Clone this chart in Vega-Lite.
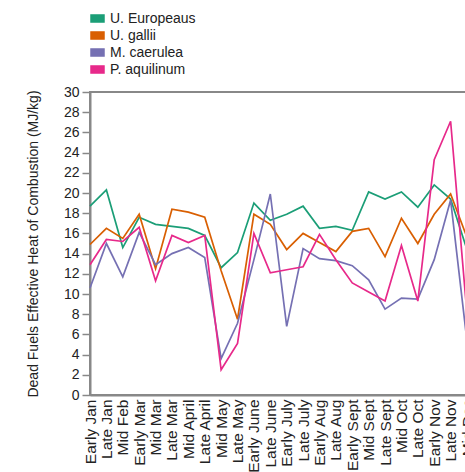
{
  "$schema": "https://vega.github.io/schema/vega-lite/v6.json",
  "width": 377,
  "height": 303,
  "padding": {"left": 26, "top": 11, "right": 0, "bottom": 0},
  "config": {
    "font": "Liberation Sans",
    "view": {"stroke": "#888888", "strokeWidth": 2},
    "axis": {"grid": false, "domainColor": "#888888", "domainWidth": 2, "tickColor": "#888888", "tickWidth": 1.5, "tickSize": 8, "labelFontSize": 14, "labelColor": "#222222", "titleFontSize": 14, "titleFontWeight": "normal", "titleColor": "#222222"}
  },
  "datasets": {
    "rows": [
      {"period": "Early Jan", "species": "U. Europeaus", "value": 18.7},
      {"period": "Late Jan", "species": "U. Europeaus", "value": 20.3},
      {"period": "Mid Feb", "species": "U. Europeaus", "value": 14.6},
      {"period": "Early Mar", "species": "U. Europeaus", "value": 17.6},
      {"period": "Mid Mar", "species": "U. Europeaus", "value": 16.9},
      {"period": "Late Mar", "species": "U. Europeaus", "value": 16.7},
      {"period": "Mid April", "species": "U. Europeaus", "value": 16.5},
      {"period": "Late April", "species": "U. Europeaus", "value": 15.8},
      {"period": "Mid May", "species": "U. Europeaus", "value": 12.6},
      {"period": "Late May", "species": "U. Europeaus", "value": 14.1},
      {"period": "Early June", "species": "U. Europeaus", "value": 19.0},
      {"period": "Late June", "species": "U. Europeaus", "value": 17.3},
      {"period": "Early July", "species": "U. Europeaus", "value": 17.9},
      {"period": "Late July", "species": "U. Europeaus", "value": 18.7},
      {"period": "Early Aug", "species": "U. Europeaus", "value": 16.5},
      {"period": "Late Aug", "species": "U. Europeaus", "value": 16.7},
      {"period": "Early Sept", "species": "U. Europeaus", "value": 16.3},
      {"period": "Mid Sept", "species": "U. Europeaus", "value": 20.1},
      {"period": "Late Sept", "species": "U. Europeaus", "value": 19.4},
      {"period": "Mid Oct", "species": "U. Europeaus", "value": 20.1},
      {"period": "Late Oct", "species": "U. Europeaus", "value": 18.6},
      {"period": "Early Nov", "species": "U. Europeaus", "value": 20.8},
      {"period": "Late Nov", "species": "U. Europeaus", "value": 19.4},
      {"period": "Mid Dec", "species": "U. Europeaus", "value": 14.4},
      {"period": "Early Jan", "species": "U. gallii", "value": 14.9},
      {"period": "Late Jan", "species": "U. gallii", "value": 16.5},
      {"period": "Mid Feb", "species": "U. gallii", "value": 15.5},
      {"period": "Early Mar", "species": "U. gallii", "value": 17.9},
      {"period": "Mid Mar", "species": "U. gallii", "value": 12.5},
      {"period": "Late Mar", "species": "U. gallii", "value": 18.4},
      {"period": "Mid April", "species": "U. gallii", "value": 18.1},
      {"period": "Late April", "species": "U. gallii", "value": 17.6},
      {"period": "Mid May", "species": "U. gallii", "value": 12.3},
      {"period": "Late May", "species": "U. gallii", "value": 7.5},
      {"period": "Early June", "species": "U. gallii", "value": 17.9},
      {"period": "Late June", "species": "U. gallii", "value": 16.9},
      {"period": "Early July", "species": "U. gallii", "value": 14.4},
      {"period": "Late July", "species": "U. gallii", "value": 16.0},
      {"period": "Early Aug", "species": "U. gallii", "value": 15.1},
      {"period": "Late Aug", "species": "U. gallii", "value": 14.2},
      {"period": "Early Sept", "species": "U. gallii", "value": 16.2},
      {"period": "Mid Sept", "species": "U. gallii", "value": 16.5},
      {"period": "Late Sept", "species": "U. gallii", "value": 13.7},
      {"period": "Mid Oct", "species": "U. gallii", "value": 17.5},
      {"period": "Late Oct", "species": "U. gallii", "value": 15.0},
      {"period": "Early Nov", "species": "U. gallii", "value": 17.9},
      {"period": "Late Nov", "species": "U. gallii", "value": 19.9},
      {"period": "Mid Dec", "species": "U. gallii", "value": 15.6},
      {"period": "Early Jan", "species": "M. caerulea", "value": 10.6},
      {"period": "Late Jan", "species": "M. caerulea", "value": 15.0},
      {"period": "Mid Feb", "species": "M. caerulea", "value": 11.7},
      {"period": "Early Mar", "species": "M. caerulea", "value": 16.1},
      {"period": "Mid Mar", "species": "M. caerulea", "value": 12.9},
      {"period": "Late Mar", "species": "M. caerulea", "value": 14.0},
      {"period": "Mid April", "species": "M. caerulea", "value": 14.6},
      {"period": "Late April", "species": "M. caerulea", "value": 13.6},
      {"period": "Mid May", "species": "M. caerulea", "value": 3.6},
      {"period": "Late May", "species": "M. caerulea", "value": 7.1},
      {"period": "Early June", "species": "M. caerulea", "value": 13.4},
      {"period": "Late June", "species": "M. caerulea", "value": 19.9},
      {"period": "Early July", "species": "M. caerulea", "value": 6.8},
      {"period": "Late July", "species": "M. caerulea", "value": 14.5},
      {"period": "Early Aug", "species": "M. caerulea", "value": 13.5},
      {"period": "Late Aug", "species": "M. caerulea", "value": 13.3},
      {"period": "Early Sept", "species": "M. caerulea", "value": 12.8},
      {"period": "Mid Sept", "species": "M. caerulea", "value": 11.4},
      {"period": "Late Sept", "species": "M. caerulea", "value": 8.5},
      {"period": "Mid Oct", "species": "M. caerulea", "value": 9.6},
      {"period": "Late Oct", "species": "M. caerulea", "value": 9.5},
      {"period": "Early Nov", "species": "M. caerulea", "value": 13.4},
      {"period": "Late Nov", "species": "M. caerulea", "value": 19.3},
      {"period": "Mid Dec", "species": "M. caerulea", "value": 5.3},
      {"period": "Early Jan", "species": "P. aquilinum", "value": 12.9},
      {"period": "Late Jan", "species": "P. aquilinum", "value": 15.4},
      {"period": "Mid Feb", "species": "P. aquilinum", "value": 15.2},
      {"period": "Early Mar", "species": "P. aquilinum", "value": 16.6},
      {"period": "Mid Mar", "species": "P. aquilinum", "value": 11.3},
      {"period": "Late Mar", "species": "P. aquilinum", "value": 15.8},
      {"period": "Mid April", "species": "P. aquilinum", "value": 15.1},
      {"period": "Late April", "species": "P. aquilinum", "value": 15.8},
      {"period": "Mid May", "species": "P. aquilinum", "value": 2.5},
      {"period": "Late May", "species": "P. aquilinum", "value": 5.1},
      {"period": "Early June", "species": "P. aquilinum", "value": 16.0},
      {"period": "Late June", "species": "P. aquilinum", "value": 12.1},
      {"period": "Early July", "species": "P. aquilinum", "value": 12.4},
      {"period": "Late July", "species": "P. aquilinum", "value": 12.7},
      {"period": "Early Aug", "species": "P. aquilinum", "value": 15.9},
      {"period": "Late Aug", "species": "P. aquilinum", "value": 13.4},
      {"period": "Early Sept", "species": "P. aquilinum", "value": 11.1},
      {"period": "Mid Sept", "species": "P. aquilinum", "value": 10.2},
      {"period": "Late Sept", "species": "P. aquilinum", "value": 9.3},
      {"period": "Mid Oct", "species": "P. aquilinum", "value": 14.8},
      {"period": "Late Oct", "species": "P. aquilinum", "value": 9.3},
      {"period": "Early Nov", "species": "P. aquilinum", "value": 23.3},
      {"period": "Late Nov", "species": "P. aquilinum", "value": 27.1},
      {"period": "Mid Dec", "species": "P. aquilinum", "value": 8.0}
    ]
  },
  "data": {"name": "rows"},
  "mark": {"type": "line", "strokeWidth": 1.7},
  "encoding": {
    "x": {
      "field": "period",
      "type": "ordinal",
      "sort": ["Early Jan", "Late Jan", "Mid Feb", "Early Mar", "Mid Mar", "Late Mar", "Mid April", "Late April", "Mid May", "Late May", "Early June", "Late June", "Early July", "Late July", "Early Aug", "Late Aug", "Early Sept", "Mid Sept", "Late Sept", "Mid Oct", "Late Oct", "Early Nov", "Late Nov", "Mid Dec"],
      "scale": {"type": "point", "padding": 0},
      "axis": {"title": null, "labelAngle": -90, "ticks": false, "labelPadding": 4, "labelFontSize": 15.5}
    },
    "y": {
      "field": "value",
      "type": "quantitative",
      "scale": {"domain": [0, 30], "nice": false},
      "axis": {"title": "Dead Fuels Effective Heat of Combustion (MJ/kg)", "values": [0, 2, 4, 6, 8, 10, 12, 14, 16, 18, 20, 22, 24, 26, 28, 30], "labelPadding": 3, "titlePadding": 23}
    },
    "color": {
      "field": "species",
      "type": "nominal",
      "scale": {"domain": ["U. Europeaus", "U. gallii", "M. caerulea", "P. aquilinum"], "range": ["#1b9e77", "#d95f02", "#7570b3", "#e7298a"]},
      "legend": {
        "title": null,
        "orient": "none",
        "legendX": 0,
        "legendY": -81,
        "direction": "vertical",
        "symbolType": "M-1,-0.55H1V0.55H-1Z",
        "symbolSize": 169,
        "labelFontSize": 14,
        "labelColor": "#222222",
        "rowPadding": 2,
        "labelOffset": 5,
        "encode": {
          "symbols": {
            "update": {
              "fill": {"scale": "color", "field": "value"},
              "stroke": {"value": "transparent"},
              "opacity": {"value": 1}
            }
          }
        }
      }
    }
  }
}
